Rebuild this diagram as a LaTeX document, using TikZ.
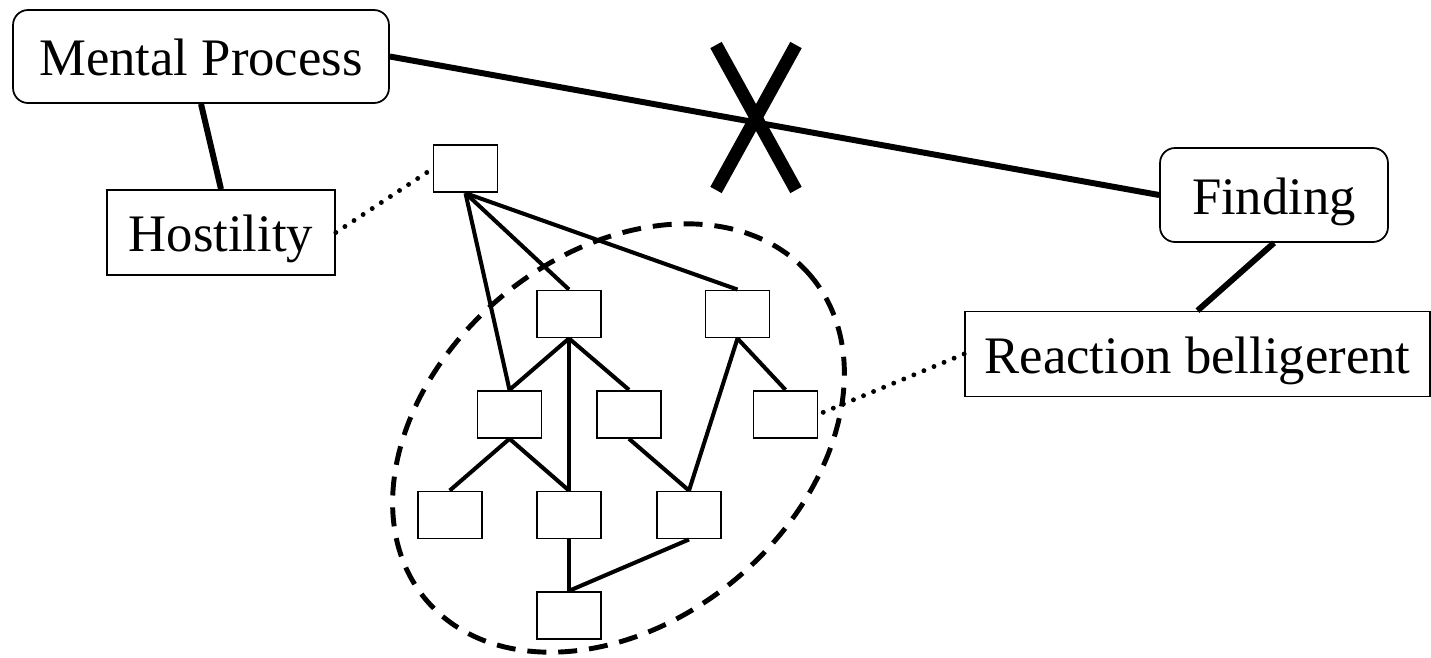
\documentclass[tikz,border=0pt]{standalone}
\usepackage{fontspec}
\setmainfont{Liberation Serif}
\begin{document}
\begin{tikzpicture}[x=0.02cm, y=-0.02cm,
  concept/.style={draw, line width=1pt, rounded corners=0.3cm, inner sep=0pt,
    font=\fontsize{30}{36}\selectfont, text height=22pt, text depth=0pt},
  term/.style={draw, line width=1pt, inner sep=0pt, minimum height=1.7cm,
    font=\fontsize{30}{36}\selectfont, text height=22pt, text depth=0pt},
  item/.style={draw, line width=1.1pt, inner sep=0pt, minimum width=1.28cm, minimum height=0.94cm},
  link/.style={line width=3.4pt},
  branch/.style={line width=2.3pt},
  dots/.style={line width=2.8pt, line cap=round, dash pattern=on 0pt off 6.2pt}]
  \useasboundingbox (0,0) rectangle (1431,657);

  % Concepts
  \node[concept, minimum width=7.52cm, minimum height=1.86cm] (mental) at (201,56.5) {Mental Process};
  \node[concept, minimum width=4.56cm, minimum height=1.88cm] (finding) at (1274,195) {Finding};
  \node[term, minimum width=4.56cm] (hostility) at (221,232.5) {Hostility};
  \node[term, minimum width=9.3cm] (reaction) at (1197.5,354) {Reaction belligerent};

  \draw[link] (mental.south) -- (hostility.north);
  \draw[link] (mental.east) -- (finding.west);
  \draw[link] (finding.south) -- (reaction.north);

  % Crossed out
  \draw[line width=7.4pt] (716,45) -- (796,190);
  \draw[line width=7.4pt] (796,45) -- (716,190);

  % Tree
  \node[item] (root) at (465.5,168.7) {};
  \node[item] (n1) at (569,314) {};
  \node[item] (n2) at (737.5,314) {};
  \node[item] (n3) at (509.5,414.3) {};
  \node[item] (n4) at (629,414.3) {};
  \node[item] (n5) at (785.5,414.3) {};
  \node[item] (n6) at (449.7,515) {};
  \node[item] (n7) at (569,515) {};
  \node[item] (n8) at (689,515) {};
  \node[item] (n9) at (569,615.3) {};

  \draw[branch] (root.south) -- (n1.north);
  \draw[branch] (root.south) -- (n2.north);
  \draw[branch] (root.south) -- (n3.north);
  \draw[branch] (n1.south) -- (n3.north);
  \draw[branch] (n1.south) -- (n4.north);
  \draw[branch] (n1.south) -- (n7.north);
  \draw[branch] (n2.south) -- (n5.north);
  \draw[branch] (n2.south) -- (n8.north);
  \draw[branch] (n3.south) -- (n6.north);
  \draw[branch] (n3.south) -- (n7.north);
  \draw[branch] (n4.south) -- (n8.north);
  \draw[branch] (n7.south) -- (n9.north);
  \draw[branch] (n8.south) -- (n9.north);

  % Grouping
  \coordinate (group) at (618.5,438);
  \draw[line width=2.8pt, dash pattern=on 10.8pt off 6.8pt, rotate around={40:(group)}]
    (group) ellipse [x radius=5.03cm, y radius=3.67cm];

  % Instances
  \draw[dots] (hostility.east) -- (root.west);
  \draw[dots] (reaction.west) -- (n5.east);
\end{tikzpicture}
\end{document}
